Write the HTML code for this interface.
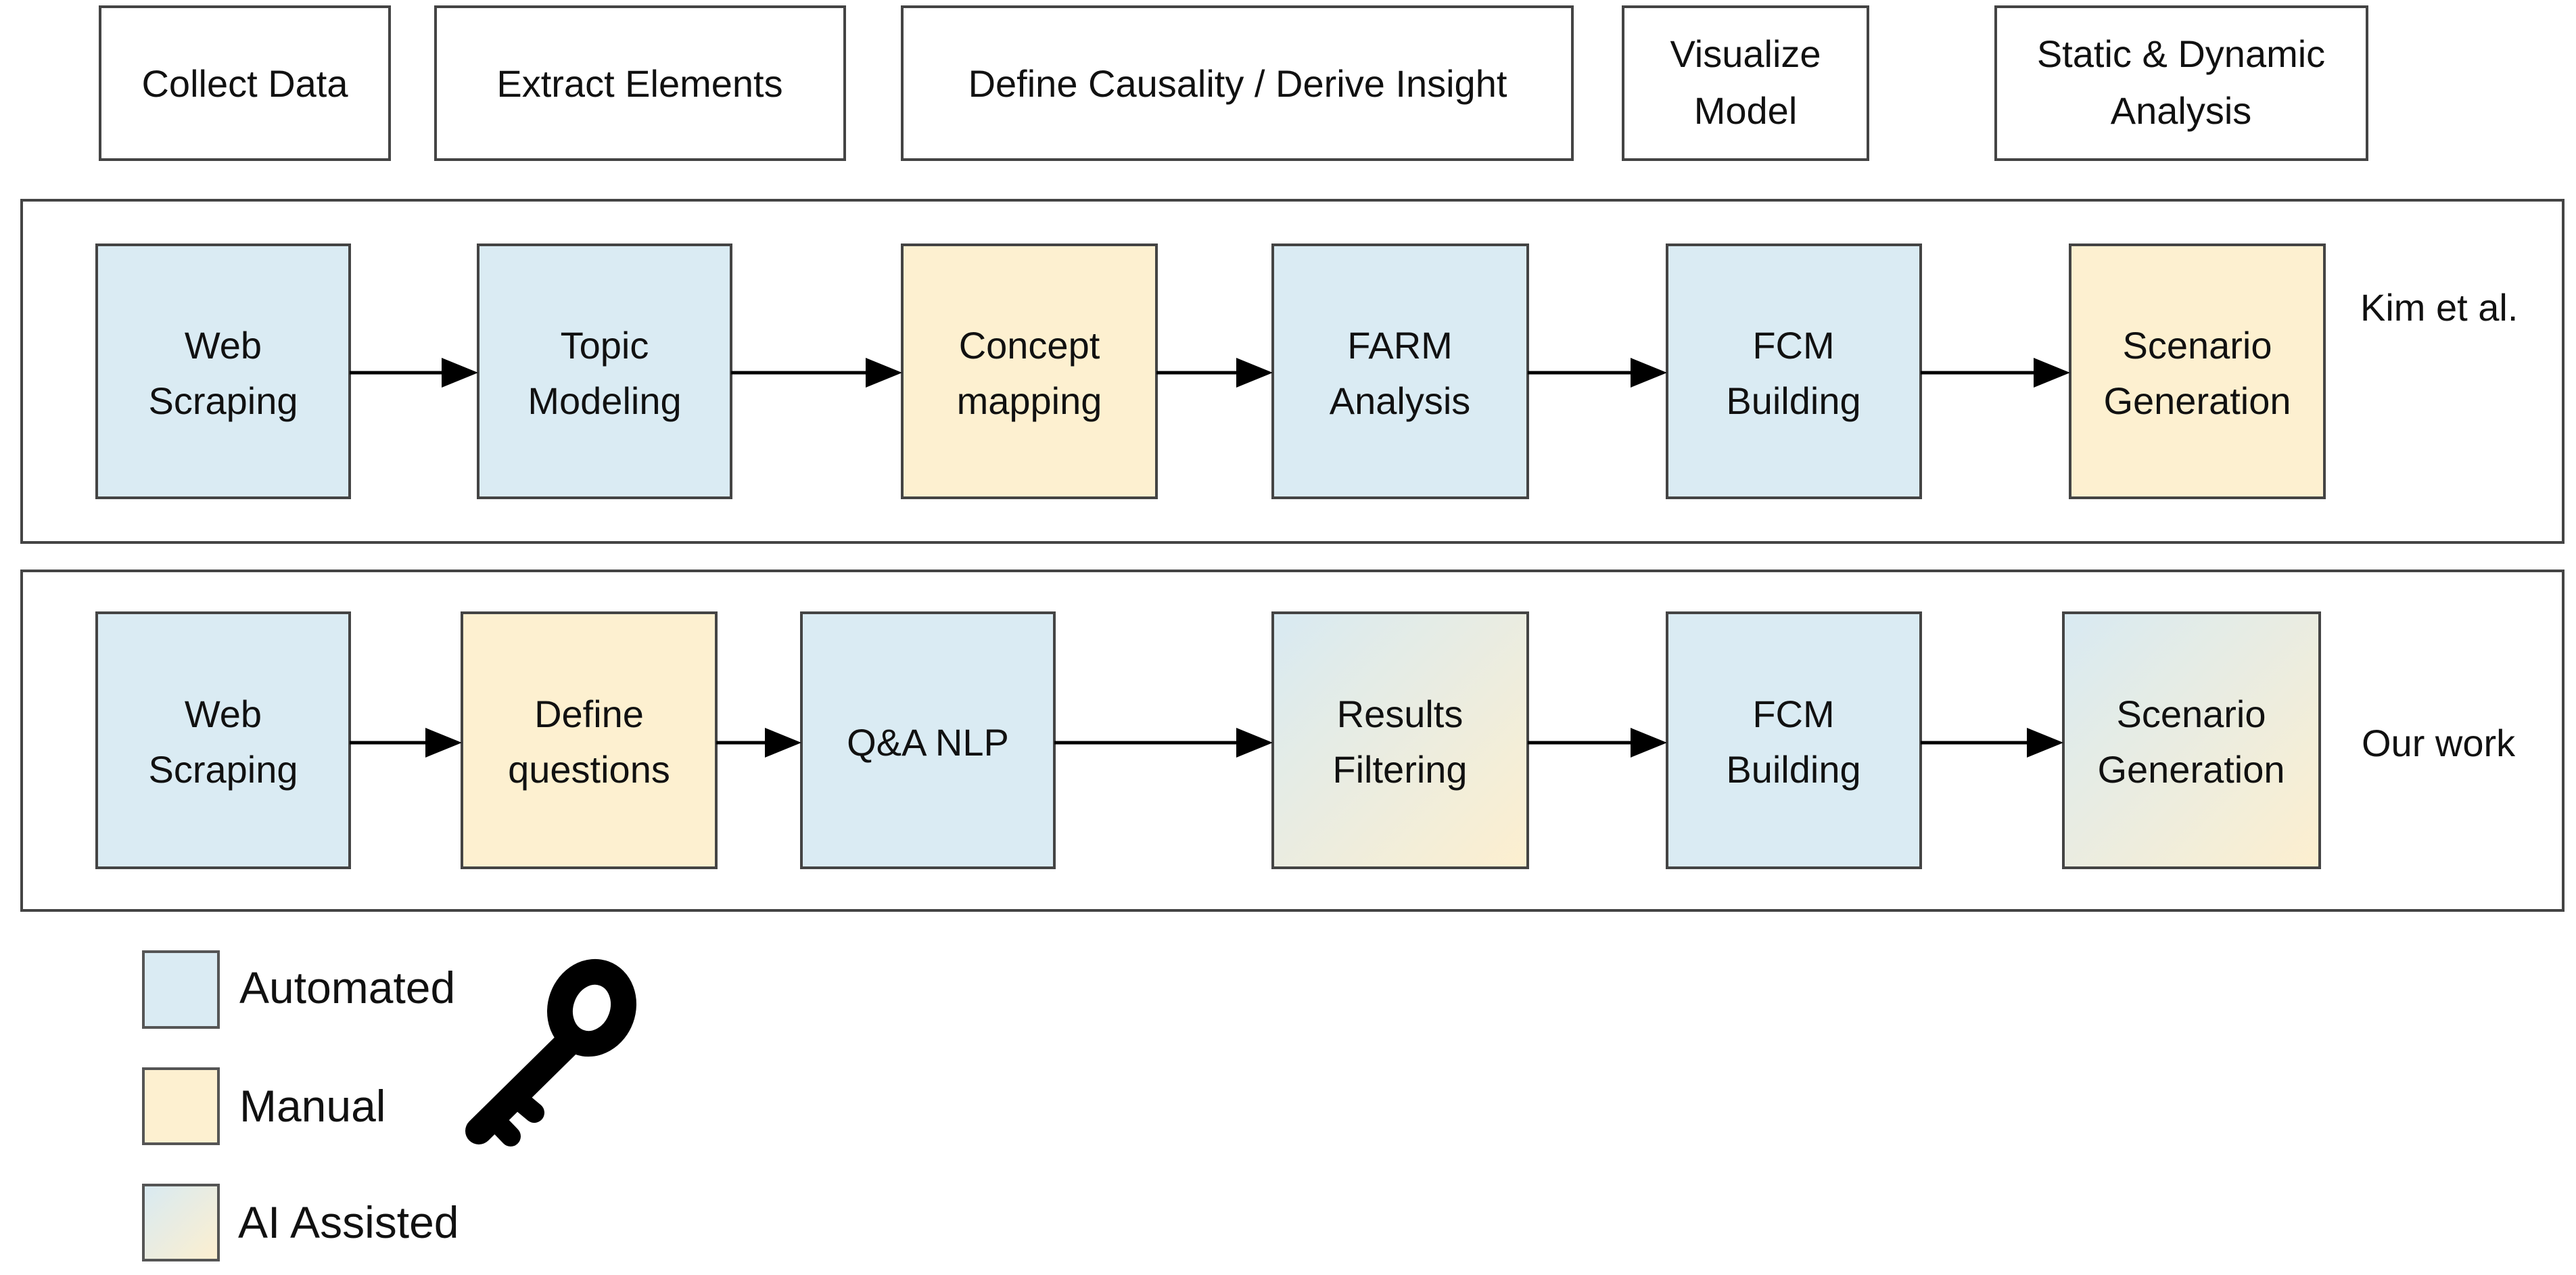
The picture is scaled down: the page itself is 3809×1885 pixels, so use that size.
<!DOCTYPE html>
<html><head><meta charset="utf-8"><style>
html,body{margin:0;padding:0;background:#fff;}
svg{display:block}
text{font-family:"Liberation Sans",sans-serif;fill:#111;}
</style></head><body>
<svg width="3809" height="1885" viewBox="0 0 3809 1885" xmlns="http://www.w3.org/2000/svg">
<defs>
<linearGradient id="ai" x1="0" y1="0" x2="1" y2="1">
<stop offset="0" stop-color="#d8eaf2"/><stop offset="1" stop-color="#fdefcf"/>
</linearGradient>
</defs>
<g fill="#fff" stroke="#444" stroke-width="4">
<rect x="148" y="10" width="428" height="226"/>
<rect x="644" y="10" width="605" height="226"/>
<rect x="1334" y="10" width="991" height="226"/>
<rect x="2400" y="10" width="362" height="226"/>
<rect x="2951" y="10" width="549" height="226"/>
<rect x="32" y="296" width="3758" height="506"/>
<rect x="32" y="844" width="3758" height="502"/>
</g>
<g font-size="56" text-anchor="middle">
<text x="362" y="143">Collect Data</text>
<text x="946" y="143">Extract Elements</text>
<text x="1830" y="143">Define Causality / Derive Insight</text>
<text x="2581" y="99">Visualize</text><text x="2581" y="183">Model</text>
<text x="3225" y="99">Static &amp; Dynamic</text><text x="3225" y="183">Analysis</text>
</g>
<g stroke="#444" stroke-width="4">
<rect x="143" y="362" width="374" height="374" fill="#daebf3"/>
<rect x="707" y="362" width="374" height="374" fill="#daebf3"/>
<rect x="1334" y="362" width="376" height="374" fill="#fdf0d0"/>
<rect x="1882" y="362" width="377" height="374" fill="#daebf3"/>
<rect x="2465" y="362" width="375" height="374" fill="#daebf3"/>
<rect x="3061" y="362" width="376" height="374" fill="#fdf0d0"/>
<rect x="143" y="906" width="374" height="377" fill="#daebf3"/>
<rect x="683" y="906" width="376" height="377" fill="#fdf0d0"/>
<rect x="1185" y="906" width="374" height="377" fill="#daebf3"/>
<rect x="1882" y="906" width="377" height="377" fill="url(#ai)"/>
<rect x="2465" y="906" width="375" height="377" fill="#daebf3"/>
<rect x="3051" y="906" width="379" height="377" fill="url(#ai)"/>
</g>
<g stroke="#000" stroke-width="5">
<line x1="517" y1="551" x2="660" y2="551"/>
<line x1="1081" y1="551" x2="1290" y2="551"/>
<line x1="1710" y1="551" x2="1838" y2="551"/>
<line x1="2259" y1="551" x2="2420" y2="551"/>
<line x1="2840" y1="551" x2="3016" y2="551"/>
<line x1="517" y1="1098" x2="638" y2="1098"/>
<line x1="1059" y1="1098" x2="1140" y2="1098"/>
<line x1="1559" y1="1098" x2="1838" y2="1098"/>
<line x1="2259" y1="1098" x2="2420" y2="1098"/>
<line x1="2840" y1="1098" x2="3006" y2="1098"/>
</g>
<g fill="#000">
<polygon points="653,529 707,551 653,573"/>
<polygon points="1280,529 1334,551 1280,573"/>
<polygon points="1828,529 1882,551 1828,573"/>
<polygon points="2411,529 2465,551 2411,573"/>
<polygon points="3007,529 3061,551 3007,573"/>
<polygon points="629,1076 683,1098 629,1120"/>
<polygon points="1131,1076 1185,1098 1131,1120"/>
<polygon points="1828,1076 1882,1098 1828,1120"/>
<polygon points="2411,1076 2465,1098 2411,1120"/>
<polygon points="2997,1076 3051,1098 2997,1120"/>
</g>
<g font-size="56" text-anchor="middle">
<text x="330" y="530">Web</text><text x="330" y="612">Scraping</text>
<text x="894" y="530">Topic</text><text x="894" y="612">Modeling</text>
<text x="1522" y="530">Concept</text><text x="1522" y="612">mapping</text>
<text x="2070" y="530">FARM</text><text x="2070" y="612">Analysis</text>
<text x="2652" y="530">FCM</text><text x="2652" y="612">Building</text>
<text x="3249" y="530">Scenario</text><text x="3249" y="612">Generation</text>
<text x="330" y="1075">Web</text><text x="330" y="1157">Scraping</text>
<text x="871" y="1075">Define</text><text x="871" y="1157">questions</text>
<text x="1372" y="1117">Q&amp;A NLP</text>
<text x="2070" y="1075">Results</text><text x="2070" y="1157">Filtering</text>
<text x="2652" y="1075">FCM</text><text x="2652" y="1157">Building</text>
<text x="3240" y="1075">Scenario</text><text x="3240" y="1157">Generation</text>
</g>
<g font-size="56">
<text x="3490" y="474">Kim et al.</text>
<text x="3492" y="1118">Our work</text>
</g>
<g stroke="#555" stroke-width="4">
<rect x="212" y="1407" width="111" height="112" fill="#daebf3"/>
<rect x="212" y="1580" width="111" height="111" fill="#fdf0d0"/>
<rect x="212" y="1752" width="111" height="111" fill="url(#ai)"/>
</g>
<g font-size="66">
<text x="354" y="1483">Automated</text>
<text x="354" y="1658">Manual</text>
<text x="352" y="1830">AI Assisted</text>
</g>
<g fill="none" stroke="#000" stroke-linecap="round">
<ellipse cx="875" cy="1490" rx="46" ry="54" transform="rotate(20 875 1490)" stroke-width="38"/>
<line x1="842" y1="1540" x2="708" y2="1672" stroke-width="40"/>
<line x1="760" y1="1620" x2="790" y2="1645" stroke-width="30"/>
<line x1="728" y1="1652" x2="755" y2="1680" stroke-width="30"/>
</g>
</svg>
</body></html>
